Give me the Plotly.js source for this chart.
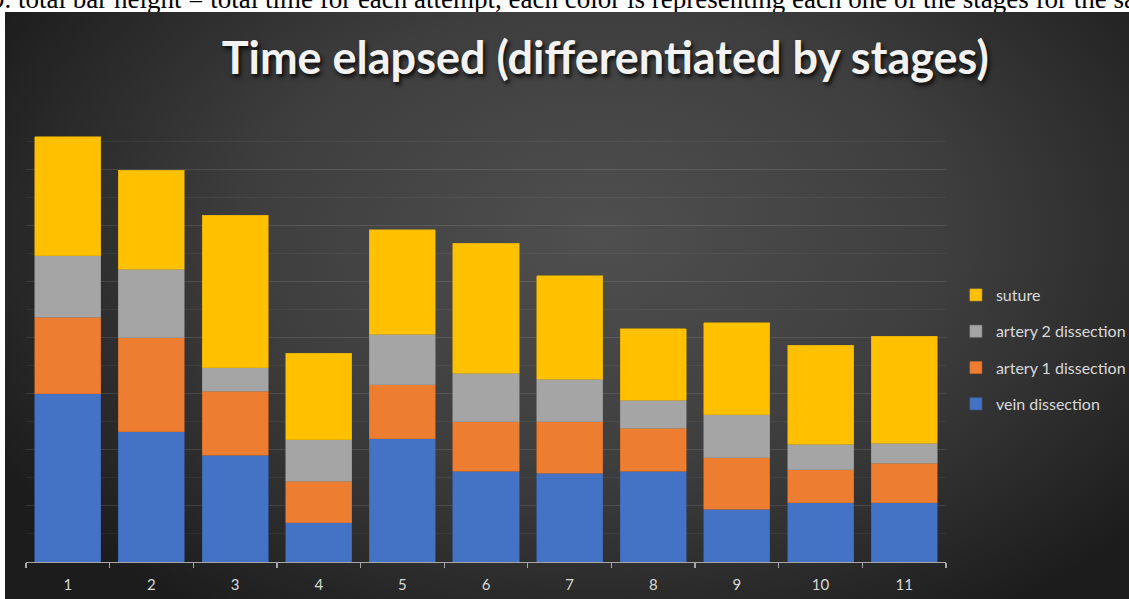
<!DOCTYPE html>
<html>
<head>
<meta charset="utf-8">
<script src="https://cdn.plot.ly/plotly-3.0.1.min.js"></script>
<style>
  html, body { margin: 0; padding: 0; background: #ffffff; width: 1129px; height: 599px; overflow: hidden; }
  #caption { position: absolute; left: 0; top: 0; width: 1129px; height: 12px; overflow: hidden; }
  #caption span { position: absolute; left: -9px; top: -14px; white-space: nowrap; line-height: 27px;
    font-family: "Liberation Serif", "Times New Roman", serif; font-size: 27px; color: #000; }
  #chart { position: absolute; left: 5px; top: 12px; width: 1124px; height: 587px;
    background: radial-gradient(ellipse 62% 78% at 53% 38%, #4f4f4f 0%, #3e3e3e 50%, #2a2a2a 80%, #1c1c1c 100%); }
</style>
</head>
<body>
<div id="caption"><span>9. total bar height = total time for each attempt, each color is representing each one of the stages for the same attempt.</span></div>
<div id="chart"></div>
<script>
// Data (units: one major gridline = 5)
const attempts = ["1","2","3","4","5","6","7","8","9","10","11"];
const veinDissection    = [15.0, 11.6, 9.5, 3.5, 11.0, 8.1, 7.9, 8.1, 4.7, 5.3, 5.3];
const artery1Dissection = [6.8, 8.4, 5.7, 3.7, 4.8, 4.4, 4.6, 3.8, 4.6, 2.9, 3.5];
const artery2Dissection = [5.5, 6.1, 2.1, 3.7, 4.5, 4.3, 3.8, 2.5, 3.8, 2.3, 1.8];
const suture            = [10.6, 8.8, 13.6, 7.7, 9.3, 11.6, 9.2, 6.4, 8.2, 8.8, 9.5];
const seriesNames  = ["vein dissection", "artery 1 dissection", "artery 2 dissection", "suture"];
const seriesColors = ["#4472C4", "#ED7D31", "#A5A5A5", "#FFC000"];
const seriesLines  = ["#3a63ad", "#cf6a26", "#8f8f8f", "#dca800"];
const seriesValues = [veinDissection, artery1Dissection, artery2Dissection, suture];

const traces = seriesValues.map((vals, i) => ({
  type: "bar",
  name: seriesNames[i],
  x: attempts,
  y: vals,
  legendgroup: "g" + i,
  legendrank: 10 - i,
  marker: { color: seriesColors[i], line: { color: seriesLines[i], width: 0.6 } },
  hoverinfo: "skip"
}));

const layout = {
  width: 1124,
  height: 587,
  paper_bgcolor: "rgba(0,0,0,0)",
  plot_bgcolor: "rgba(0,0,0,0)",
  margin: { l: 21, r: 183, t: 101, b: 37 },
  barmode: "stack",
  bargap: 0.21,
  font: { family: "Lato, 'Open Sans', sans-serif", color: "#d9d9d9" },
  title: {
    text: "<b>Time elapsed (differentiated by stages)</b>",
    font: { family: "Lato, 'Open Sans', sans-serif", size: 45, color: "#f2f2f2",
            shadow: "2px 3px 4px rgba(0,0,0,0.85)" },
    xref: "container", x: 0.534, xanchor: "center",
    yref: "container", y: 0.922, yanchor: "middle"
  },
  xaxis: {
    type: "category",
    showline: true, linecolor: "#a6a6a6", linewidth: 1.2,
    ticks: "outside", tickson: "boundaries", ticklen: 5, tickcolor: "#a6a6a6", tickwidth: 1.2,
    tickfont: { size: 15, color: "#d9d9d9", family: "Lato, 'Open Sans', sans-serif" },
    ticklabelstandoff: 9,
    showgrid: false, zeroline: false, fixedrange: true
  },
  yaxis: {
    range: [0, 40],
    dtick: 5,
    showticklabels: false,
    ticks: "",
    showgrid: true, gridcolor: "rgba(255,255,255,0.11)", gridwidth: 1,
    minor: { dtick: 2.5, showgrid: true, gridcolor: "rgba(255,255,255,0.05)", gridwidth: 1 },
    zeroline: false, showline: false, fixedrange: true
  },
  showlegend: true,
  legend: {
    traceorder: "grouped",
    tracegroupgap: 12.5,
    xref: "container", x: 0.846, xanchor: "left",
    yref: "container", y: 0.425, yanchor: "middle",
    font: { size: 16, color: "#d9d9d9", family: "Lato, 'Open Sans', sans-serif" },
    bgcolor: "rgba(0,0,0,0)"
  }
};

Plotly.newPlot("chart", traces, layout, { staticPlot: true, displayModeBar: false });
</script>
</body>
</html>
